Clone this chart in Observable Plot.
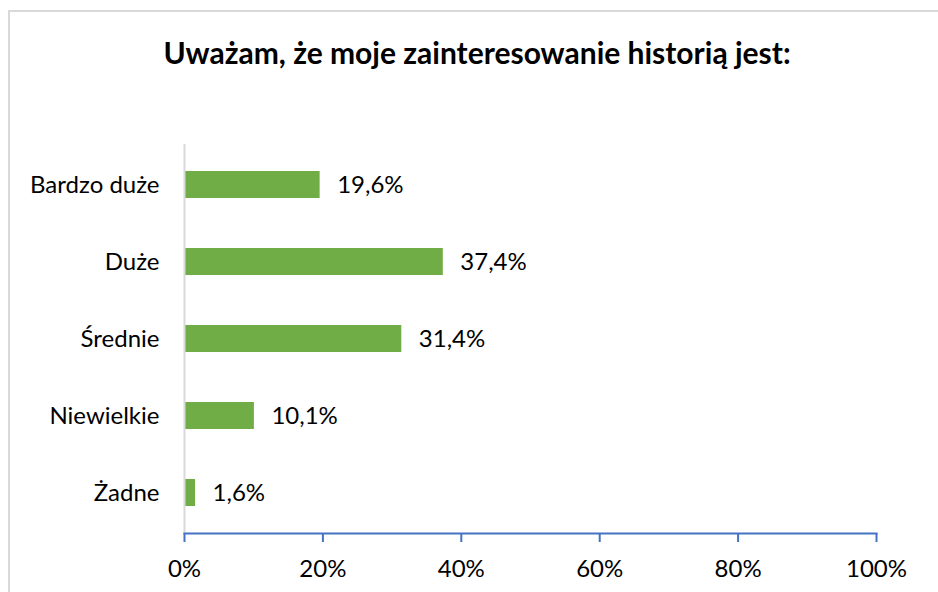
<!DOCTYPE html>
<html><head><meta charset="utf-8">
<script src="https://cdn.jsdelivr.net/npm/d3@7"></script>
<script src="https://cdn.jsdelivr.net/npm/@observablehq/plot@0.6"></script>
<style>
html,body{margin:0;padding:0;background:#fff;}
#wrap{position:relative;width:938px;height:592px;overflow:hidden;font-family:Lato,sans-serif;}
#border{position:absolute;left:8px;top:10px;width:1000px;height:1000px;border:2px solid #d9d9d9;box-sizing:border-box;}
#title{position:absolute;top:32px;left:0;width:954px;text-align:center;font-weight:bold;font-size:30px;line-height:40px;color:#000;}
#chart{position:absolute;left:0;top:0;}
</style></head><body>
<div id="wrap"><div id="border"></div><div id="title">Uważam, że moje zainteresowanie historią jest:</div><div id="chart"></div></div>
<script>
const categories = ["Bardzo duże","Duże","Średnie","Niewielkie","Żadne"];
const values = [19.6, 37.4, 31.4, 10.1, 1.6];
const labels = ["19,6%","37,4%","31,4%","10,1%","1,6%"];
const xTicks = [0,20,40,60,80,100];
const data = categories.map((c,i)=>({cat:c, v:values[i], lab:labels[i]}));
const plot = Plot.plot({
  width:938, height:592,
  marginLeft:184, marginRight:62, marginTop:144, marginBottom:59,
  style:{fontFamily:"Lato, sans-serif", background:"transparent", overflow:"visible"},
  x:{domain:[0,100]},
  y:{domain:categories, paddingInner:0.65, paddingOuter:0.325},
  marks:[
    Plot.barX(data,{x:"v", y:"cat", fill:"#70AD47"}),
    Plot.ruleX([0],{stroke:"#d9d9d9", strokeWidth:2}),
    Plot.frame({anchor:"bottom", stroke:"#4472C4", strokeWidth:2}),
    Plot.axisX({ticks:xTicks, tickSize:9, tickPadding:17, stroke:"#4472C4", strokeWidth:2, fill:"#000", fontSize:24, tickFormat:d=>d+"%", label:null}),
    Plot.axisY({tickSize:0, tickPadding:25, fontSize:24, fill:"#000", label:null}),
    Plot.text(data,{x:"v", y:"cat", text:"lab", dx:17, textAnchor:"start", fontSize:24, fill:"#000"})
  ]
});
document.getElementById("chart").appendChild(plot);
</script></body></html>
